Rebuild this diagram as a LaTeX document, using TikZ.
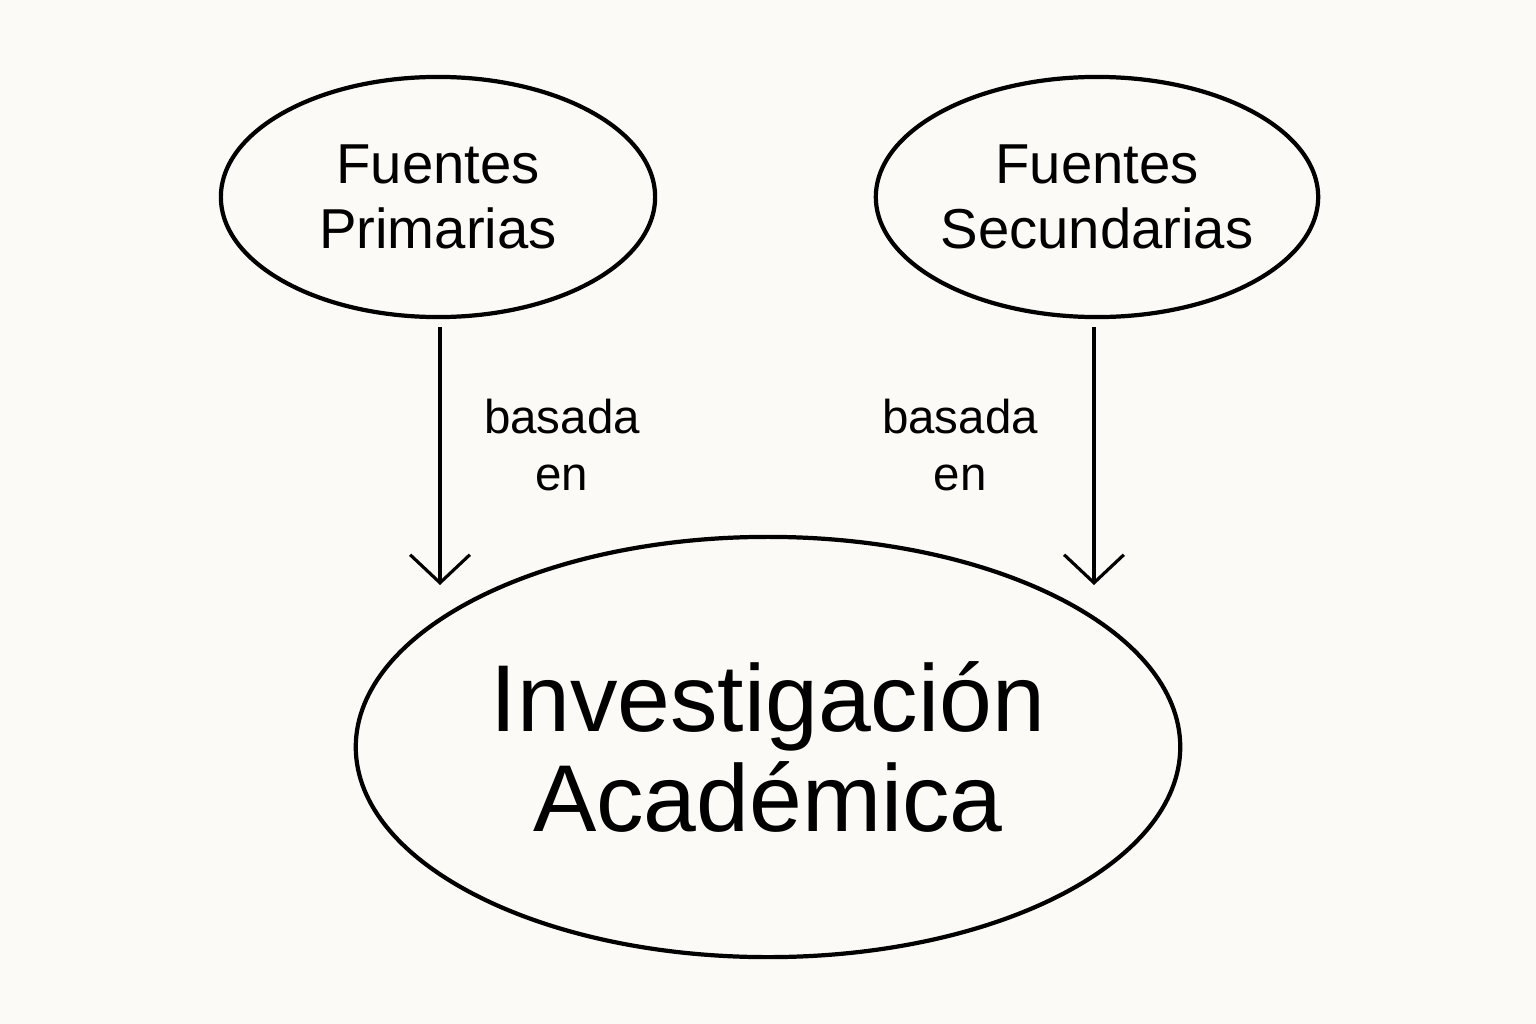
\documentclass[tikz,border=0pt]{standalone}
\usepackage{fontspec}
\setmainfont{Liberation Sans}
\usetikzlibrary{arrows.meta,positioning,shapes.geometric}

\begin{document}
\begin{tikzpicture}[x=0.01cm,y=-0.01cm]

\tikzset{source/.style={
    draw, ellipse, line width=1.2pt,
    minimum width=4.34cm, minimum height=2.4cm,
    inner sep=0pt, align=center,
    font=\fontsize{16}{18.5}\selectfont
  },
  goal/.style={
    draw, ellipse, line width=1.2pt,
    minimum width=8.24cm, minimum height=4.2cm,
    inner sep=0pt, align=center,
    font=\fontsize{27}{28.5}\selectfont
  },
  basis/.style={
    ->, line width=0.9pt,
    >={Straight Barb[length=8pt,width=17pt,line width=0.9pt]}
  },
  lbl/.style={align=center, font=\fontsize{13.5}{16.2}\selectfont}
}

\fill[fill={rgb,255:red,251;green,250;blue,246}] (0,0) rectangle (1536,1024);

\node[source] (prim) at (438,197) {Fuentes\\Primarias};
\node[source] (sec) at (1097,197) {Fuentes\\Secundarias};
\node[goal] (inv) at (768,747) {Investigación\\Académica};

\coordinate (ptip) at (440,585);
\coordinate (stip) at (1094,585);

\draw [basis] (prim.south -| ptip) ++(0,8) -- (ptip);
\draw [basis] (sec.south -| stip) ++(0,8) -- (stip);

\node[lbl] (lp) at (562,445) {basada\\en};
\node[lbl] (ls) at (960,445) {basada\\en};

\end{tikzpicture}
\end{document}
